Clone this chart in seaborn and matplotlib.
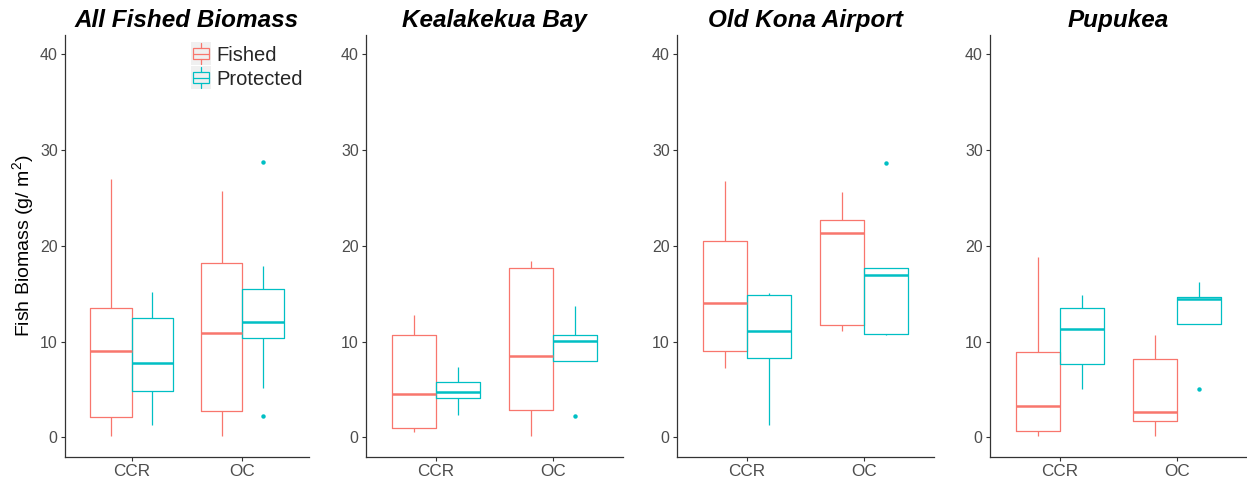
import numpy as np
import pandas as pd
import matplotlib
matplotlib.use("Agg")
import matplotlib.pyplot as plt
import seaborn as sns
from matplotlib.patches import Patch, Rectangle
from matplotlib.lines import Line2D
from matplotlib.legend_handler import HandlerBase

# ---------------------------------------------------------------------------
# Fish biomass (g/m^2) by survey method and management zone
# ---------------------------------------------------------------------------
SITES = ["All Fished Biomass", "Kealakekua Bay", "Old Kona Airport", "Pupukea"]
METHODS = ["CCR", "OC"]
ZONES = ["Fished", "Protected"]
COLORS = {"Fished": "#F8766D", "Protected": "#00BFC4"}

# Box summaries per site; groups ordered CCR-Fished, CCR-Protected, OC-Fished, OC-Protected
WHISKER_LO = [[0.1, 1.3, 0.1, 5.1],
              [0.6, 2.3, 0.1, 8.0],
              [7.2, 1.3, 11.15, 10.7],
              [0.1, 5.0, 0.1, 11.85]]
Q1 = [[2.15, 4.85, 2.75, 10.35],
      [1.0, 4.1, 2.9, 8.0],
      [9.05, 8.25, 11.7, 10.8],
      [0.7, 7.7, 1.75, 11.85]]
MEDIAN = [[9.05, 7.8, 10.85, 12.0],
          [4.5, 4.7, 8.5, 10.1],
          [14.0, 11.15, 21.3, 16.9],
          [3.3, 11.3, 2.6, 14.4]]
Q3 = [[13.55, 12.5, 18.2, 15.5],
      [10.7, 5.8, 17.7, 10.7],
      [20.5, 14.9, 22.7, 17.7],
      [8.9, 13.5, 8.2, 14.7]]
WHISKER_HI = [[27.0, 15.2, 25.7, 17.9],
              [12.8, 7.3, 18.4, 13.7],
              [26.8, 15.1, 25.6, 17.7],
              [18.8, 14.9, 10.7, 16.2]]
OUTLIERS = [[[], [], [], [2.25, 28.7]],
            [[], [], [], [2.25]],
            [[], [], [], [28.6]],
            [[], [], [], [5.0]]]

Y_TICKS = [0, 10, 20, 30, 40]
Y_LABEL = r"Fish Biomass (g/ $\mathrm{m}^{2}$)"


def group_observations(lo, q1, med, q3, hi, outliers):
    """Nine ordered observations whose Tukey summary equals the given one."""
    low_out = [v for v in outliers if v < q1]
    high_out = [v for v in outliers if v > q3]
    bottom = (low_out + [lo, lo])[:2]
    top = ([hi, hi] + high_out)[-2:]
    return sorted(bottom + [q1, med, med, med, q3] + top)


def site_frame(k):
    rows = []
    g = 0
    for method in METHODS:
        for zone in ZONES:
            obs = group_observations(WHISKER_LO[k][g], Q1[k][g], MEDIAN[k][g],
                                     Q3[k][g], WHISKER_HI[k][g], OUTLIERS[k][g])
            rows += [{"method": method, "zone": zone, "biomass": v} for v in obs]
            g += 1
    return pd.DataFrame(rows)


class BoxKeyHandler(HandlerBase):
    """Legend key drawn as a small box-and-whisker glyph on a grey tile."""

    def create_artists(self, legend, orig_handle, xdescent, ydescent,
                       width, height, fontsize, trans):
        c = orig_handle.get_edgecolor()
        x0, y0 = -xdescent, -ydescent - 0.2 * height
        h = height * 1.4
        bg = Rectangle((x0, y0), width, h, facecolor="#F0F0F0",
                       edgecolor="none", transform=trans)
        box = Rectangle((x0 + 0.1 * width, y0 + 0.25 * h), 0.8 * width, 0.5 * h,
                        facecolor="none", edgecolor=c, linewidth=0.9, transform=trans)
        med = Line2D([x0 + 0.1 * width, x0 + 0.9 * width], [y0 + 0.5 * h] * 2,
                     color=c, linewidth=0.9, transform=trans)
        wlo = Line2D([x0 + 0.5 * width] * 2, [y0 + 0.05 * h, y0 + 0.25 * h],
                     color=c, linewidth=0.9, transform=trans)
        whi = Line2D([x0 + 0.5 * width] * 2, [y0 + 0.75 * h, y0 + 0.95 * h],
                     color=c, linewidth=0.9, transform=trans)
        return [bg, box, med, wlo, whi]


sns.set_style("white")
plt.rcParams["font.family"] = ["Liberation Sans", "DejaVu Sans"]
plt.rcParams["mathtext.fontset"] = "custom"
plt.rcParams["mathtext.rm"] = "Liberation Sans"
plt.rcParams["mathtext.it"] = "Liberation Sans:italic"

W, H = 1247, 482
fig = plt.figure(figsize=(W / 100, H / 100), dpi=100)
fig.patch.set_facecolor("white")

# panel placement in pixels: (left, right)
PANEL_X = [(65, 309), (366, 623), (677, 934), (990, 1247)]
TOP_PX, BOTTOM_PX = 35, 456.5

for k, site in enumerate(SITES):
    left, right = PANEL_X[k]
    ax = fig.add_axes([left / W, 1 - BOTTOM_PX / H, (right - left) / W,
                       (BOTTOM_PX - TOP_PX) / H])
    df = site_frame(k)
    sns.boxplot(data=df, x="method", y="biomass", hue="zone",
                order=METHODS, hue_order=ZONES, palette=COLORS,
                fill=False, width=0.75, linewidth=0.9, showcaps=False,
                whis=1.5,
                medianprops={"linewidth": 1.8},
                flierprops={"marker": "o", "markersize": 3.2, "markeredgewidth": 0},
                legend=False, ax=ax)
    # solid outlier dots in the group colour
    for ln in ax.lines:
        if ln.get_marker() == "o":
            ln.set_markerfacecolor(ln.get_markeredgecolor())

    ax.set_xlim(-0.6, 1.6)
    ax.set_ylim(-2, 42)
    ax.set_yticks(Y_TICKS)
    ax.set_xlabel("")
    ax.set_ylabel("")
    for side in ("top", "right"):
        ax.spines[side].set_visible(False)
    for side in ("left", "bottom"):
        ax.spines[side].set_color("#333333")
        ax.spines[side].set_linewidth(0.9)
    ax.tick_params(axis="both", which="both", length=2.75, width=0.8,
                   color="#333333", labelcolor="#4D4D4D", pad=2.5,
                   left=True, bottom=True)
    ax.tick_params(axis="y", labelsize=11.5)
    ax.tick_params(axis="x", labelsize=12.3)
    ax.set_title(site, fontsize=17.5, fontweight="bold", fontstyle="italic",
                 color="black", pad=6)

    if k == 0:
        ax.set_ylabel(Y_LABEL, fontsize=14, color="black")
        ax.yaxis.set_label_coords(-0.12, 0.5)
        handles = [Patch(facecolor="none", edgecolor=COLORS[z]) for z in ZONES]
        ax.legend(handles, ZONES, handler_map={Patch: BoxKeyHandler()},
                  loc="upper right", bbox_to_anchor=(0.975, 0.975),
                  frameon=False, fontsize=14.5, handlelength=1.0,
                  handleheight=0.85, handletextpad=0.25, labelspacing=0.25,
                  borderaxespad=0.0, borderpad=0.0)

fig.savefig("out.png", dpi=100, facecolor="white")
